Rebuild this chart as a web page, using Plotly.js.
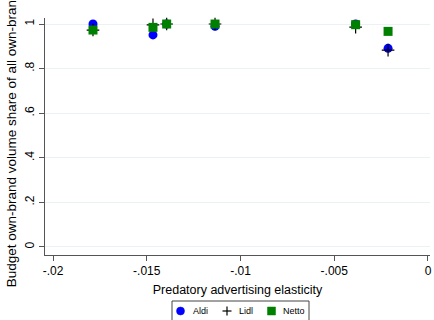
<!DOCTYPE html>
<html>
<head>
<meta charset="utf-8">
<script src="https://cdn.plot.ly/plotly-3.0.1.min.js"></script>
<style>
  html, body { margin: 0; padding: 0; background: #fff; }
  #chart { width: 434px; height: 320px; }
</style>
</head>
<body>
<div id="chart"></div>
<script>
// Elasticity of predatory advertising for each market
const elasticity = [-0.01787, -0.01467, -0.01394, -0.01136, -0.00386, -0.00213];

// Budget own-brand volume share by discounter
const aldiShare  = [1.000, 0.951, 1.000, 0.990, 1.000, 0.891];
const lidlShare  = [0.973, 0.996, 1.000, 1.000, 0.986, 0.883];
const nettoShare = [0.973, 0.985, 1.000, 1.000, 0.997, 0.967];

const seriesNames = ['Aldi', 'Lidl', 'Netto'];

const xTicks = [-0.02, -0.015, -0.01, -0.005, 0];
const xTickText = ['-.02', '-.015', '-.01', '-.005', '0'];
const yTicks = [0, 0.2, 0.4, 0.6, 0.8, 1];
const yTickText = ['0', '.2', '.4', '.6', '.8', '1'];

const BLUE = '#0000ff', BLACK = '#000000', GREEN = '#008000';

const traces = [
  {
    name: seriesNames[0], x: elasticity, y: aldiShare, type: 'scatter', mode: 'markers',
    marker: { symbol: 'circle', size: 9, color: BLUE }, cliponaxis: false
  },
  {
    name: seriesNames[1], x: elasticity, y: lidlShare, type: 'scatter', mode: 'markers',
    marker: { symbol: 'cross-thin', size: 9, color: BLACK, line: { color: BLACK, width: 1.2 } },
    cliponaxis: false
  },
  {
    name: seriesNames[2], x: elasticity, y: nettoShare, type: 'scatter', mode: 'markers',
    marker: { symbol: 'square', size: 9, color: GREEN }, cliponaxis: false
  }
];

// Plot area geometry (pixels) used to place the key box below the x title
const W = 434, H = 320;
const M = { l: 45, r: 4, t: 18, b: 65 };
const plotW = W - M.l - M.r, plotH = H - M.t - M.b;
const px = x => (x - M.l) / plotW;
const py = y => (H - M.b - y) / plotH;

// Key below the chart: boxed, one row
const keyTop = 301, keyBottom = 326, keyLeft = 172, keyRight = 309, keyMid = 311;
const keySymX = [180.5, 227, 271.5];
const keyTextX = [191, 237, 281];
const r = 4;

const shapes = [
  { type: 'rect', xref: 'paper', yref: 'paper',
    x0: px(keyLeft), x1: px(keyRight), y0: py(keyBottom), y1: py(keyTop),
    line: { color: '#444444', width: 1 }, fillcolor: '#ffffff', layer: 'above' },
  { type: 'circle', xref: 'paper', yref: 'paper',
    x0: px(keySymX[0] - r), x1: px(keySymX[0] + r), y0: py(keyMid + r), y1: py(keyMid - r),
    line: { color: BLUE, width: 0.5 }, fillcolor: BLUE, layer: 'above' },
  { type: 'line', xref: 'paper', yref: 'paper',
    x0: px(keySymX[1] - r - 0.5), x1: px(keySymX[1] + r + 0.5), y0: py(keyMid), y1: py(keyMid),
    line: { color: BLACK, width: 1.2 }, layer: 'above' },
  { type: 'line', xref: 'paper', yref: 'paper',
    x0: px(keySymX[1]), x1: px(keySymX[1]), y0: py(keyMid + r + 0.5), y1: py(keyMid - r - 0.5),
    line: { color: BLACK, width: 1.2 }, layer: 'above' },
  { type: 'rect', xref: 'paper', yref: 'paper',
    x0: px(keySymX[2] - r), x1: px(keySymX[2] + r), y0: py(keyMid + r), y1: py(keyMid - r),
    line: { color: GREEN, width: 0.5 }, fillcolor: GREEN, layer: 'above' }
];

const annotations = seriesNames.map((name, i) => ({
  text: name, xref: 'paper', yref: 'paper',
  x: px(keyTextX[i]), y: py(keyMid), xanchor: 'left', yanchor: 'middle',
  showarrow: false, font: { size: 9, color: BLACK }
}));

const layout = {
  width: W, height: H,
  margin: M,
  paper_bgcolor: '#ffffff', plot_bgcolor: '#ffffff',
  font: { family: 'Liberation Sans, Arial, sans-serif', color: BLACK, size: 12 },
  showlegend: false,
  shapes: shapes,
  annotations: annotations,
  xaxis: {
    range: [-0.02043, 0.000107],
    tickvals: xTicks, ticktext: xTickText,
    ticks: 'outside', ticklen: 5, tickcolor: '#555555',
    showline: true, linecolor: '#555555', linewidth: 1,
    showgrid: false, zeroline: false,
    tickfont: { size: 12 },
    title: { text: 'Predatory advertising elasticity', font: { size: 12.5 }, standoff: 7 }
  },
  yaxis: {
    range: [-0.036, 1.027],
    tickvals: yTicks, ticktext: yTickText, tickangle: -90,
    ticks: 'outside', ticklen: 5, tickcolor: '#555555',
    showline: true, linecolor: '#555555', linewidth: 1,
    showgrid: true, gridcolor: '#eaf2f3', gridwidth: 1, zeroline: false,
    tickfont: { size: 12 },
    title: { text: 'Budget own-brand volume share of all own-brands', font: { size: 13.5 }, standoff: 3 }
  }
};

Plotly.newPlot('chart', traces, layout, { displayModeBar: false, staticPlot: true });
</script>
</body>
</html>
